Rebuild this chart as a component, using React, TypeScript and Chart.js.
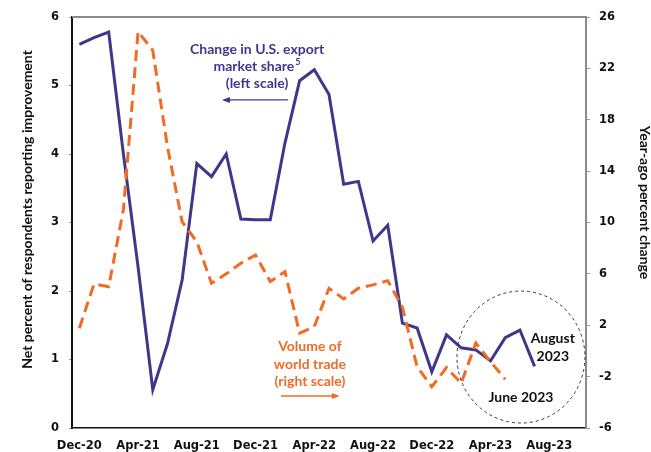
import React, { useEffect, useRef } from "react";
import { Chart, registerables } from "chart.js";

Chart.register(...registerables);

const months = [
  "Dec-20", "Jan-21", "Feb-21", "Mar-21", "Apr-21", "May-21", "Jun-21", "Jul-21",
  "Aug-21", "Sep-21", "Oct-21", "Nov-21", "Dec-21", "Jan-22", "Feb-22", "Mar-22",
  "Apr-22", "May-22", "Jun-22", "Jul-22", "Aug-22", "Sep-22", "Oct-22", "Nov-22",
  "Dec-22", "Jan-23", "Feb-23", "Mar-23", "Apr-23", "May-23", "Jun-23", "Jul-23",
  "Aug-23", "Sep-23", "Oct-23",
];

// Change in U.S. export market share (left scale)
const exportShare = [
  5.6, 5.7, 5.78, 4.0, 2.35, 0.56, 1.23, 2.16, 3.86, 3.67, 4.0, 3.05, 3.04, 3.04,
  4.16, 5.07, 5.23, 4.87, 3.56, 3.6, 2.73, 2.96, 1.53, 1.46, 0.82, 1.36, 1.17,
  1.14, 0.98, 1.32, 1.43, 0.9,
];

// Volume of world trade, year-ago percent change (right scale)
const worldTrade = [
  1.77, 5.21, 5.0, 11.0, 24.86, 23.4, 15.9, 10.05, 8.5, 5.27, 6.0, 6.83, 7.47,
  5.4, 6.17, 1.38, 1.9, 4.88, 4.05, 4.88, 5.14, 5.47, 3.4, -1.23, -2.78, -1.3,
  -2.52, 0.62, -0.84, -2.2,
];

const leftTitle = "Net percent of respondents reporting improvement";
const rightTitle = "Year-ago percent change";
const purpleNote = ["Change in U.S. export", "market share", "(left scale)"];
const orangeNote = ["Volume of", "world trade", "(right scale)"];
const augustNote = ["August", "2023"];
const juneNote = "June 2023";

const PURPLE = "#3f388a";
const ORANGE = "#f26b24";
const TICK_FONT = { family: "DejaVu Sans", weight: "bold" as const, size: 11.5 };
const NOTE_FONT = "bold 14px Lato";

function arrow(ctx: CanvasRenderingContext2D, x1: number, x2: number, y: number, color: string) {
  ctx.save();
  ctx.strokeStyle = color;
  ctx.fillStyle = color;
  ctx.lineWidth = 1.3;
  ctx.setLineDash([]);
  const dir = Math.sign(x2 - x1);
  ctx.beginPath();
  ctx.moveTo(x1, y);
  ctx.lineTo(x2 - dir * 5, y);
  ctx.stroke();
  ctx.beginPath();
  ctx.moveTo(x2, y);
  ctx.lineTo(x2 - dir * 8, y - 3);
  ctx.lineTo(x2 - dir * 8, y + 3);
  ctx.closePath();
  ctx.fill();
  ctx.restore();
}

const annotations = {
  id: "annotations",
  afterDatasetsDraw(chart: any) {
    const { ctx, chartArea, scales } = chart;
    const x = scales.x;
    const yl = scales.yLeft;
    const px = (i: number) => x.getPixelForValue(i);
    const py = (v: number) => yl.getPixelForValue(v);
    ctx.save();

    // top frame line
    ctx.strokeStyle = "#8a8a8a";
    ctx.lineWidth = 2;
    ctx.beginPath();
    ctx.moveTo(chartArea.left, chartArea.top);
    ctx.lineTo(chartArea.right + 1, chartArea.top);
    ctx.stroke();

    ctx.textAlign = "center";
    ctx.textBaseline = "middle";

    // purple note
    ctx.font = NOTE_FONT;
    ctx.fillStyle = PURPLE;
    const pcx = px(12.1);
    let y0 = py(5.53);
    ctx.fillText(purpleNote[0], pcx, y0);
    const w1 = ctx.measureText(purpleNote[1]).width;
    ctx.font = "bold 9px Lato";
    const w2 = ctx.measureText("5").width;
    const startX = pcx - (w1 + w2 + 1) / 2;
    ctx.textAlign = "left";
    ctx.font = NOTE_FONT;
    ctx.fillText(purpleNote[1], startX, y0 + 17);
    ctx.font = "bold 9px Lato";
    ctx.fillText("5", startX + w1 + 1, y0 + 13);
    ctx.textAlign = "center";
    ctx.font = NOTE_FONT;
    ctx.fillText(purpleNote[2], pcx, y0 + 34);
    arrow(ctx, px(14.2), px(9.71), py(4.79), PURPLE);

    // orange note
    ctx.fillStyle = ORANGE;
    const ocx = px(15.7);
    y0 = py(1.19);
    orangeNote.forEach((t, i) => ctx.fillText(t, ocx, y0 + i * 17.5));
    arrow(ctx, px(13.73), px(17.74), py(0.467), ORANGE);

    // dashed circle
    ctx.strokeStyle = "#333";
    ctx.lineWidth = 1;
    ctx.setLineDash([3, 3]);
    ctx.beginPath();
    ctx.ellipse(px(30.07), py(1.036), 64, 66, 0, 0, Math.PI * 2);
    ctx.stroke();
    ctx.setLineDash([]);

    // black notes
    ctx.fillStyle = "#111";
    ctx.font = NOTE_FONT;
    ctx.fillText(augustNote[0], px(32.24), py(1.31));
    ctx.fillText(augustNote[1], px(32.24), py(1.31) + 18);
    ctx.fillText(juneNote, px(30.07), py(0.44));

    // axis titles
    ctx.font = "bold 14px Lato";
    ctx.fillStyle = "#111";
    const midY = (chartArea.top + chartArea.bottom) / 2;
    ctx.save();
    ctx.translate(27, midY - 13);
    ctx.rotate(-Math.PI / 2);
    ctx.fillText(leftTitle, 0, 0);
    ctx.restore();
    ctx.save();
    ctx.translate(chart.width - 6.5, midY - 20);
    ctx.rotate(Math.PI / 2);
    ctx.fillText(rightTitle, 0, 0);
    ctx.restore();

    ctx.restore();
  },
};

export default function App() {
  const ref = useRef<HTMLCanvasElement | null>(null);
  useEffect(() => {
    document.body.style.margin = "0";
    if (!ref.current) return;
    const chart = new Chart(ref.current, {
      type: "line",
      data: {
        labels: months,
        datasets: [
          {
            label: "Change in U.S. export market share",
            data: exportShare,
            yAxisID: "yLeft",
            borderColor: PURPLE,
            borderWidth: 3,
            pointRadius: 0,
            tension: 0,
            borderJoinStyle: "miter",
            order: 1,
          },
          {
            label: "Volume of world trade",
            data: worldTrade,
            yAxisID: "yRight",
            borderColor: ORANGE,
            borderWidth: 3,
            borderDash: [11, 6],
            pointRadius: 0,
            tension: 0,
            order: 0,
          },
        ],
      },
      options: {
        animation: false,
        responsive: true,
        maintainAspectRatio: false,
        layout: { padding: { top: 17, left: 0, right: 0, bottom: 0 } },
        plugins: { legend: { display: false }, tooltip: { enabled: false } },
        scales: {
          x: {
            type: "category",
            offset: true,
            grid: { display: false, drawTicks: false },
            border: { display: true, color: "#111", width: 1.5 },
            ticks: {
              autoSkip: false,
              maxRotation: 0,
              padding: 11,
              color: "#111",
              font: TICK_FONT,
              callback: (_v: any, i: number) => (i % 4 === 0 ? months[i] : ""),
            },
            afterFit: (s: any) => {
              s.height = 24;
            },
          },
          yLeft: {
            type: "linear",
            position: "left",
            min: 0,
            max: 6,
            ticks: { stepSize: 1, padding: 10, color: "#111", font: TICK_FONT },
            grid: { drawOnChartArea: false, drawTicks: true, tickLength: 3, color: "#999" },
            border: { display: true, color: "#111", width: 2 },
            afterFit: (s: any) => {
              s.width = 72;
            },
          },
          yRight: {
            type: "linear",
            position: "right",
            min: -6,
            max: 26,
            ticks: { stepSize: 4, padding: 9, color: "#111", font: TICK_FONT },
            grid: { drawOnChartArea: false, drawTicks: true, tickLength: 4, color: "#999" },
            border: { display: true, color: "#8a8a8a", width: 2 },
            afterFit: (s: any) => {
              s.width = 65;
            },
          },
        },
      },
      plugins: [annotations],
    });
    return () => chart.destroy();
  }, []);
  return (
    <div style={{ width: 651, height: 452, position: "relative" }}>
      <canvas ref={ref} />
    </div>
  );
}
